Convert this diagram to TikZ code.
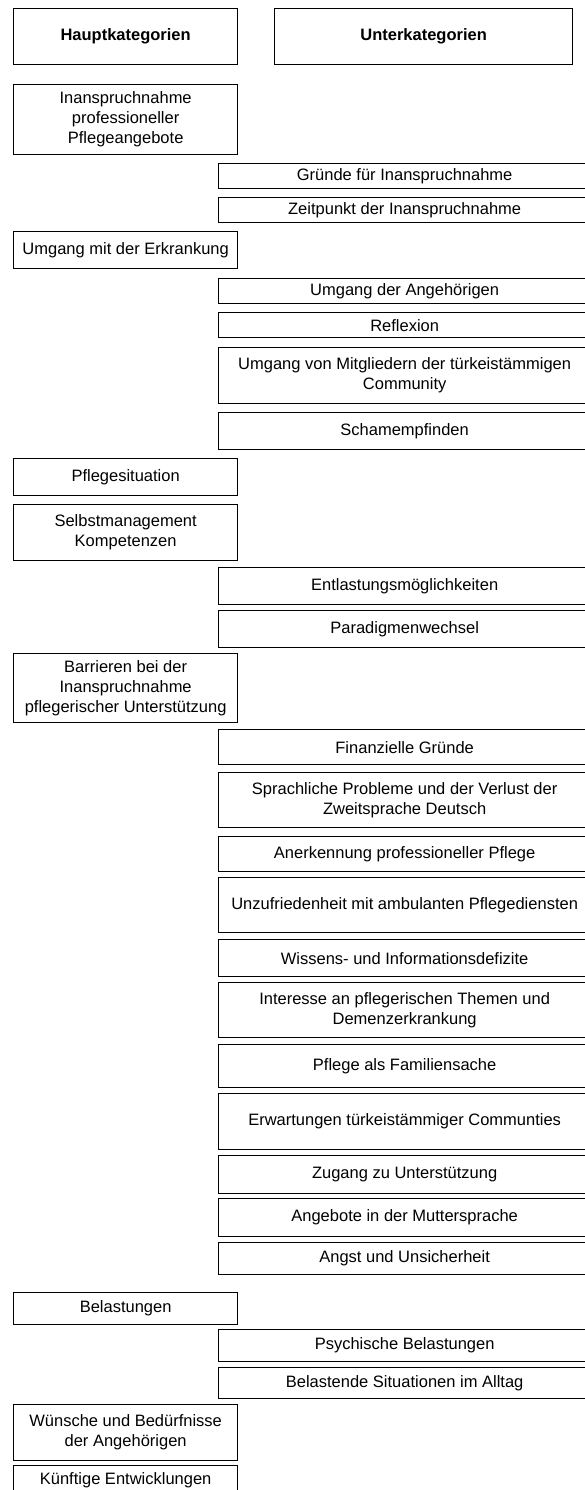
\documentclass[tikz,border=0pt]{standalone}
\usepackage{fontspec}
\setmainfont{Liberation Sans}

\tikzset{
    kat/.style={draw, line width=1.3pt, inner sep=0pt, anchor=north west, align=center,
                font=\fontsize{16.5}{20}\selectfont},
    haupt/.style={kat, minimum width=224pt},
    unter/.style={kat, minimum width=372pt},
}

\begin{document}
\begin{tikzpicture}[x=1pt, y=-1pt]
    \useasboundingbox[fill=white] (0,0) rectangle (584,1490);

    % Kopfzeile
    \node[haupt, minimum height=56pt, font=\fontsize{16.5}{20}\selectfont\bfseries] (kopfhaupt) at (13,8) {Hauptkategorien};
    \node[kat, minimum width=298pt, minimum height=56pt, font=\fontsize{16.5}{20}\selectfont\bfseries] (kopfunter) at (274,8) {Unterkategorien};

    % Inanspruchnahme
    \node[haupt, minimum height=70pt] (inanspruch) at (13,84) {Inanspruchnahme\\professioneller\\Pflegeangebote};
    \node[unter, minimum height=25pt] (gruende) at (218,163) {Gründe für Inanspruchnahme};
    \node[unter, minimum height=25pt] (zeitpunkt) at (218,197) {Zeitpunkt der Inanspruchnahme};

    % Umgang mit der Erkrankung
    \node[haupt, minimum height=37pt] (umgang) at (13,231) {Umgang mit der Erkrankung};
    \node[unter, minimum height=25pt] (angehoerige) at (218,278) {Umgang der Angehörigen};
    \node[unter, minimum height=25pt] (reflexion) at (218,312) {Reflexion};
    \node[unter, minimum height=56pt] (community) at (218,347) {Umgang von Mitgliedern der türkeistämmigen\\Community};
    \node[unter, minimum height=37pt] (scham) at (218,412) {Schamempfinden};

    % Pflegesituation, Selbstmanagement
    \node[haupt, minimum height=37pt] (pflegesit) at (13,458) {Pflegesituation};
    \node[haupt, minimum height=56pt] (selbstmgmt) at (13,504) {Selbstmanagement\\Kompetenzen};
    \node[unter, minimum height=37pt] (entlastung) at (218,567) {Entlastungsmöglichkeiten};
    \node[unter, minimum height=37pt] (paradigma) at (218,610) {Paradigmenwechsel};

    % Barrieren
    \node[haupt, minimum height=69pt] (barrieren) at (13,653) {Barrieren bei der\\Inanspruchnahme\\pflegerischer Unterstützung};
    \node[unter, minimum height=35pt] (finanziell) at (218,729) {Finanzielle Gründe};
    \node[unter, minimum height=55pt] (sprache) at (218,772) {Sprachliche Probleme und der Verlust der\\Zweitsprache Deutsch};
    \node[unter, minimum height=35pt] (anerkennung) at (218,836) {Anerkennung professioneller Pflege};
    \node[unter, minimum height=55pt] (unzufrieden) at (218,877) {Unzufriedenheit mit ambulanten Pflegediensten};
    \node[unter, minimum height=37pt] (wissen) at (218,939) {Wissens- und Informationsdefizite};
    \node[unter, minimum height=55pt] (interesse) at (218,982) {Interesse an pflegerischen Themen und\\Demenzerkrankung};
    \node[unter, minimum height=43pt] (familie) at (218,1044) {Pflege als Familiensache};
    \node[unter, minimum height=56pt] (erwartung) at (218,1093) {Erwartungen türkeistämmiger Communties};
    \node[unter, minimum height=38pt] (zugang) at (218,1155) {Zugang zu Unterstützung};
    \node[unter, minimum height=38pt] (mutterspr) at (218,1198) {Angebote in der Muttersprache};
    \node[unter, minimum height=32pt] (angst) at (218,1242) {Angst und Unsicherheit};

    % Belastungen
    \node[haupt, minimum height=32pt] (belastung) at (13,1292) {Belastungen};
    \node[unter, minimum height=32pt] (psychisch) at (218,1329) {Psychische Belastungen};
    \node[unter, minimum height=31pt] (alltag) at (218,1367) {Belastende Situationen im Alltag};

    % Wuensche, Entwicklungen
    \node[haupt, minimum height=56pt] (wuensche) at (13,1404) {Wünsche und Bedürfnisse\\der Angehörigen};
    \node[haupt, minimum height=30pt] (zukunft) at (13,1465) {Künftige Entwicklungen};
\end{tikzpicture}
\end{document}
